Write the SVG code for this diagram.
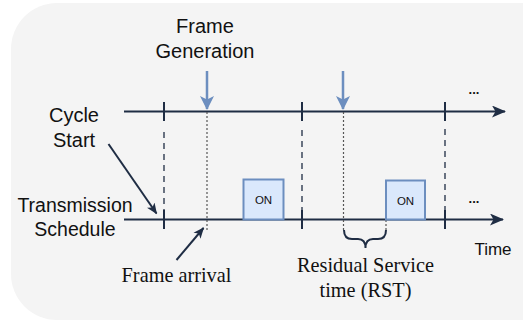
<svg xmlns="http://www.w3.org/2000/svg" width="523" height="323" viewBox="0 0 523 323">
<defs>
<marker id="dk" viewBox="0 0 14 12" refX="13" refY="6" markerWidth="14" markerHeight="12" markerUnits="userSpaceOnUse" orient="auto">
<path d="M0,0 L14,6 L0,12 L3.5,6 Z" fill="#1f2d44"/>
</marker>
<marker id="dk2" viewBox="0 0 12 10" refX="11" refY="5" markerWidth="11" markerHeight="10" markerUnits="userSpaceOnUse" orient="auto">
<path d="M0,0 L12,5 L0,10 L3,5 Z" fill="#1f2d44"/>
</marker>
<marker id="bl" viewBox="0 0 14 14" refX="13" refY="7" markerWidth="14" markerHeight="14" markerUnits="userSpaceOnUse" orient="auto">
<path d="M0,0 L14,7 L0,14 L3.5,7 Z" fill="#6c8ebf"/>
</marker>
</defs>
<style>
.sans{font-family:"Liberation Sans",Arial,sans-serif;fill:#111;}
.serif{font-family:"Liberation Serif","Times New Roman",serif;fill:#111;}
.axis{stroke:#1f2d44;stroke-width:2;fill:none;}
.tick{stroke:#1f2d44;stroke-width:2;}
.dash{stroke:#1f2d44;stroke-width:1.3;stroke-dasharray:6 5;}
.dot{stroke:#555;stroke-width:1.2;stroke-dasharray:2 2;}
.on{fill:#dae8fc;stroke:#6c8ebf;stroke-width:2;}
</style>
<rect x="11" y="3" width="560" height="317" rx="46" ry="46" fill="#f4f4f4"/>

<g id="connectors">
<line class="axis" x1="124" y1="111.5" x2="505" y2="111.5" marker-end="url(#dk)"/>
<line class="axis" x1="124" y1="219.5" x2="503" y2="219.5" marker-end="url(#dk)"/>
<line class="tick" x1="164" y1="102" x2="164" y2="121"/>
<line class="tick" x1="302" y1="102" x2="302" y2="121"/>
<line class="tick" x1="445" y1="102" x2="445" y2="121"/>
<line class="tick" x1="164" y1="210" x2="164" y2="229"/>
<line class="tick" x1="302" y1="210" x2="302" y2="229"/>
<line class="tick" x1="445" y1="210" x2="445" y2="229"/>
<line class="dash" x1="164" y1="132" x2="164" y2="212"/>
<line class="dash" x1="302" y1="130" x2="302" y2="210"/>
<line class="dash" x1="445" y1="129" x2="445" y2="210"/>
<line class="dot" x1="207" y1="112" x2="207" y2="232"/>
<line class="dot" x1="343.5" y1="112" x2="343.5" y2="231"/>
<line class="dot" x1="386" y1="220" x2="386" y2="231"/>
<line x1="207" y1="71" x2="207" y2="109" stroke="#6c8ebf" stroke-width="2.5" marker-end="url(#bl)"/>
<line x1="343" y1="71" x2="343" y2="109" stroke="#6c8ebf" stroke-width="2.5" marker-end="url(#bl)"/>
<line x1="108.5" y1="144" x2="156.5" y2="213.5" stroke="#1f2d44" stroke-width="2" marker-end="url(#dk2)"/>
<line x1="176.5" y1="260" x2="203.5" y2="228" stroke="#1f2d44" stroke-width="2" marker-end="url(#dk2)"/>
<path d="M344,230 Q344,239 352,239 L358,239 Q365.5,239 365.5,248 Q365.5,239 373,239 L378,239 Q386,239 386,230" fill="none" stroke="#1f2d44" stroke-width="2"/>
</g>

<g id="on1"><rect class="on" x="243.5" y="179.5" width="40" height="40"/><text class="sans" x="263.5" y="204" font-size="11.5" text-anchor="middle">ON</text></g>
<g id="on2"><rect class="on" x="386" y="180.5" width="39" height="39"/><text class="sans" x="405.5" y="204.5" font-size="11.5" text-anchor="middle">ON</text></g>

<g id="frame-generation"><text class="sans" font-size="20" text-anchor="middle"><tspan x="205" y="33">Frame</tspan><tspan x="205" y="58">Generation</tspan></text></g>
<g id="cycle-start"><text class="sans" font-size="20" text-anchor="middle"><tspan x="74" y="122">Cycle</tspan><tspan x="74" y="147">Start</tspan></text></g>
<g id="transmission-schedule"><text class="sans" font-size="19.5" text-anchor="middle"><tspan x="75" y="212">Transmission</tspan><tspan x="75" y="236">Schedule</tspan></text></g>
<g id="frame-arrival"><text class="serif" x="176.5" y="281.5" font-size="20.3" text-anchor="middle">Frame arrival</text></g>
<g id="rst"><text class="serif" font-size="20.3" text-anchor="middle"><tspan x="365.5" y="272">Residual Service</tspan><tspan x="365.5" y="297">time (RST)</tspan></text></g>
<g id="time"><text class="sans" x="493" y="254.5" font-size="17" text-anchor="middle">Time</text></g>
<g id="dots-top"><text class="sans" x="474" y="94" font-size="13" font-weight="bold" text-anchor="middle">...</text></g>
<g id="dots-bottom"><text class="sans" x="474" y="203" font-size="13" font-weight="bold" text-anchor="middle">...</text></g>
</svg>
